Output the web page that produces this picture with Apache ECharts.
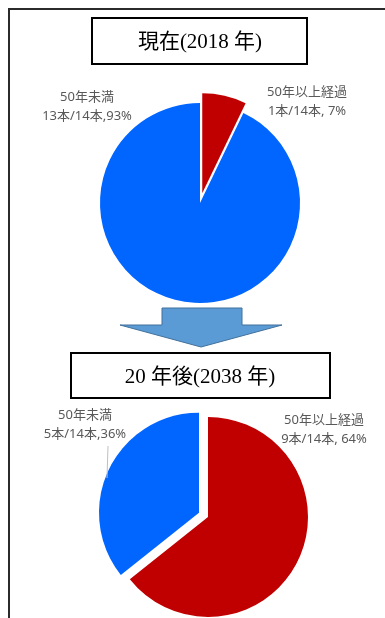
<!DOCTYPE html>
<html>
<head>
<meta charset="utf-8">
<script src="https://cdn.jsdelivr.net/npm/echarts@6/dist/echarts.min.js"></script>
<style>
  html, body { margin: 0; padding: 0; background: #ffffff; }
  #chart { width: 385px; height: 618px; }
</style>
</head>
<body>
<div id="chart"></div>
<script>
// Bridge counts by age group, now and twenty years later
const statusNames = ['50年以上経過', '50年未満'];
const counts2018 = [1, 13];
const counts2038 = [9, 5];
const panelTitles = ['現在(2018 年)', '20 年後(2038 年)'];
const sliceColors = ['#C00000', '#0066FF'];

const labelFont = '"Noto Sans", "Noto Sans CJK JP", sans-serif';
const titleFont = '"Liberation Serif", "DejaVu Serif", "Noto Sans CJK JP", serif';

// where each slice caption sits (centre of the two-line block)
const labelSpots = [
  [{ x: 307, y: 102 }, { x: 87, y: 107 }],
  [{ x: 324, y: 430 }, { x: 85, y: 425 }]
];

function buildData(counts, explodedIndex) {
  return counts.map((v, i) => ({
    name: statusNames[i],
    value: v,
    selected: i === explodedIndex,
    itemStyle: { color: sliceColors[i] }
  }));
}

// caption text: name, count out of total, and rounded share
function captionText(counts, i) {
  const total = counts.reduce((a, b) => a + b, 0);
  const pct = Math.round(counts[i] / total * 100);
  const sep = i === 0 ? ', ' : ',';
  return statusNames[i] + '\n' + counts[i] + '本/' + total + '本' + sep + pct + '%';
}

function captions(counts, pieIdx) {
  return counts.map((v, i) => {
    const s = labelSpots[pieIdx][i];
    return {
      type: 'text', z: 5, x: s.x, y: s.y, silent: true,
      style: {
        text: captionText(counts, i),
        font: '13px ' + labelFont,
        lineHeight: 19,
        fill: '#595959',
        textAlign: 'center',
        textVerticalAlign: 'middle'
      }
    };
  });
}

function pieSeries(counts, center, explodedIndex) {
  return {
    type: 'pie',
    center: center,
    radius: 100,
    startAngle: 90,
    clockwise: true,
    selectedMode: 'single',
    selectedOffset: 10,
    animation: false,
    silent: true,
    data: buildData(counts, explodedIndex),
    select: { itemStyle: { borderWidth: 0 } },
    emphasis: { disabled: true },
    label: { show: false },
    labelLine: { show: false }
  };
}

const chart = echarts.init(document.getElementById('chart'), null, { renderer: 'canvas' });

chart.setOption({
  backgroundColor: '#ffffff',
  animation: false,
  graphic: [
    // outer frame, running off the right and bottom edges
    { type: 'rect', z: 0, shape: { x: 9, y: 9, width: 420, height: 650 },
      style: { fill: 'none', stroke: '#2b2b2b', lineWidth: 2 } },
    // upper heading box
    { type: 'rect', z: 1, shape: { x: 92, y: 18, width: 215, height: 46 },
      style: { fill: '#ffffff', stroke: '#000000', lineWidth: 2 } },
    { type: 'text', z: 2, x: 200, y: 42,
      style: { text: panelTitles[0], font: '21px ' + titleFont, fill: '#000000',
               textAlign: 'center', textVerticalAlign: 'middle' } },
    // downward arrow between the two panels
    { type: 'polygon', z: 1,
      shape: { points: [[162, 308], [242, 308], [242, 325], [282, 325], [201, 347], [120, 325], [162, 325]] },
      style: { fill: '#5B9BD5', stroke: '#41719C', lineWidth: 1 } },
    // lower heading box
    { type: 'rect', z: 1, shape: { x: 71, y: 353, width: 259, height: 45 },
      style: { fill: '#ffffff', stroke: '#000000', lineWidth: 2 } },
    { type: 'text', z: 2, x: 200, y: 377,
      style: { text: panelTitles[1], font: '21px ' + titleFont, fill: '#000000',
               textAlign: 'center', textVerticalAlign: 'middle' } },
    // leader line for the lower-left caption
    { type: 'polyline', z: 3, shape: { points: [[108, 446], [107, 478]] },
      style: { stroke: '#bfbfbf', lineWidth: 1, fill: 'none' } }
  ].concat(captions(counts2018, 0), captions(counts2038, 1)),
  series: [
    pieSeries(counts2018, [200, 203], 0),
    pieSeries(counts2038, [208, 517], 1)
  ]
});
</script>
</body>
</html>
